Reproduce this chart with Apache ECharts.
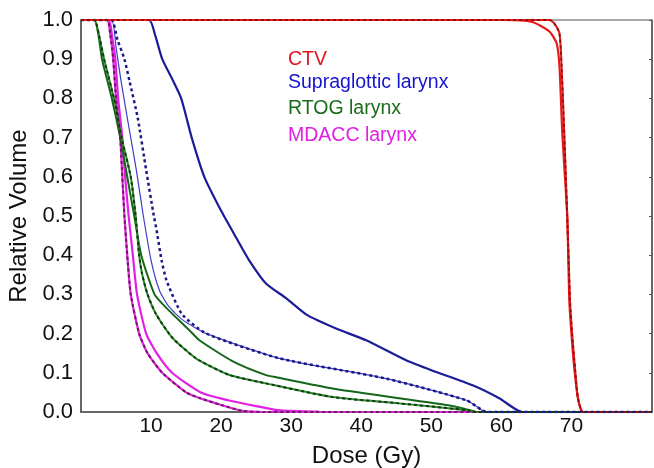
<!DOCTYPE html>
<html>
<head>
<meta charset="utf-8">
<script src="https://cdn.jsdelivr.net/npm/echarts@6/dist/echarts.min.js"></script>
<style>
  html, body { margin: 0; padding: 0; background: #fff; }
  #chart { width: 654px; height: 468px; }
</style>
</head>
<body>
<div id="chart"></div>
<script>
// DVH curves: [dose (Gy), relative volume]
var xTicks = [10, 20, 30, 40, 50, 60, 70];
var legendNames = ['CTV', 'Supraglottic larynx', 'RTOG larynx', 'MDACC larynx'];

var ctvA = [[0, 1], [59.9, 1], [64.4, 0.995], [66.9, 0.97], [67.9, 0.94], [68.3, 0.88], [68.7, 0.71],
  [69.4, 0.5], [69.7, 0.284], [70, 0.2], [70.4, 0.114], [70.9, 0.038], [71.4, 0.004], [71.7, 0], [81.5, 0]];
var ctvB = [[0, 1], [66.9, 1], [67.6, 0.99], [68.3, 0.965], [68.6, 0.88], [69, 0.7], [69.4, 0.5],
  [69.8, 0.284], [70.1, 0.2], [70.5, 0.114], [70.9, 0.038], [71.4, 0.004], [71.7, 0], [81.5, 0]];

var supraA = [[0, 1], [9.7, 1], [10.6, 0.96], [11.6, 0.9], [13, 0.85], [14.3, 0.8], [15.8, 0.7], [17.6, 0.6],
  [20.1, 0.51], [22.3, 0.44], [24, 0.387], [26.4, 0.328], [29.3, 0.29], [32.3, 0.247], [36.4, 0.213],
  [40.7, 0.183], [46.4, 0.132], [50.1, 0.106], [55.9, 0.068], [59.7, 0.035], [63, 0], [81.5, 0]];
var supraB = [[0, 1], [4.3, 1], [5.2, 0.95], [6.2, 0.9], [6.9, 0.846], [8.1, 0.75], [9.3, 0.617], [10.4, 0.5],
  [10.8, 0.463], [11.5, 0.387], [12.2, 0.336], [14.4, 0.25], [17.9, 0.2], [28.3, 0.137], [43.6, 0.085],
  [55, 0.03], [57.3, 0.004], [58, 0], [81.5, 0]];
var supraBThin = [[0, 1], [4.3, 1], [5, 0.93], [5.7, 0.846], [6.9, 0.72], [7.9, 0.617], [8.9, 0.5], [10, 0.387],
  [11.2, 0.31], [12.5, 0.27], [14.5, 0.235], [17.9, 0.2], [28.3, 0.137], [43.6, 0.085], [55, 0.03],
  [57.3, 0.004], [58, 0], [81.5, 0]];

var rtogA = [[0, 1], [1.9, 1], [2.5, 0.96], [3, 0.9], [4.4, 0.8], [5.6, 0.7], [6.6, 0.6], [7.6, 0.5], [8.6, 0.4],
  [10.5, 0.3], [12.1, 0.267], [15.5, 0.208], [16.9, 0.183], [21.6, 0.13], [26.4, 0.094], [28, 0.088],
  [35.9, 0.06], [45.4, 0.035], [52.4, 0.017], [55.7, 0.004], [56.5, 0], [81.5, 0]];
var rtogB = [[0, 1], [1.9, 1], [2.7, 0.95], [3.3, 0.9], [4.7, 0.8], [5.8, 0.7], [7.1, 0.6], [7.8, 0.5], [8.3, 0.4],
  [8.7, 0.354], [9.5, 0.3], [10.7, 0.25], [13, 0.19], [16.4, 0.137], [21.1, 0.095], [26.4, 0.073],
  [35.9, 0.038], [45.4, 0.022], [55.4, 0.004], [56, 0], [81.5, 0]];

var mdaccA = [[0, 1], [3.9, 1], [4.5, 0.95], [4.9, 0.9], [5.3, 0.8], [5.9, 0.7], [6.3, 0.6], [6.8, 0.5],
  [7.4, 0.4], [8, 0.3], [9.3, 0.2], [10.8, 0.15], [13, 0.1], [17.1, 0.05], [21, 0.03], [25, 0.015],
  [28.4, 0.004], [33.8, 0.001], [34, 0], [81.5, 0]];
var mdaccB = [[0, 1], [3.7, 1], [4.2, 0.96], [4.6, 0.9], [5, 0.8], [5.6, 0.7], [5.9, 0.6], [6.2, 0.5],
  [6.6, 0.4], [7.1, 0.3], [8.3, 0.2], [9.5, 0.15], [11.6, 0.1], [15, 0.05], [17, 0.035], [20, 0.018],
  [23, 0.003], [26, 0], [81.5, 0]];

function curve(name, data, color, width, dashed) {
  return {
    name: name,
    type: 'line',
    data: data,
    symbol: 'none',
    smooth: 0.2,
    lineStyle: { color: color, width: width, type: dashed ? [3, 3] : 'solid', join: 'round' },
    z: dashed ? 4 : 3
  };
}

var chart = echarts.init(document.getElementById('chart'));
var font = 'Liberation Sans, Arial, sans-serif';
var legendFont = '19.5px ' + font;
var option = {
  animation: false,
  grid: {
    left: 81, right: 2, top: 20, bottom: 56,
    outerBoundsMode: 'none',
    show: true, borderColor: '#555', borderWidth: 1
  },
  xAxis: {
    type: 'value',
    min: 0,
    max: 81.5,
    interval: 10,
    name: 'Dose (Gy)',
    nameLocation: 'middle',
    nameGap: 32,
    nameTextStyle: { fontFamily: font, fontSize: 24, color: '#111' },
    axisLine: { show: true, lineStyle: { color: '#666', width: 2 } },
    axisTick: { show: false },
    splitLine: { show: false },
    axisLabel: {
      fontFamily: font, fontSize: 21, color: '#111', margin: 4,
      showMaxLabel: false,
      formatter: function (v) { return xTicks.indexOf(v) >= 0 ? String(v) : ''; }
    }
  },
  yAxis: [{
    type: 'value',
    min: 0,
    max: 1,
    interval: 0.1,
    name: 'Relative Volume',
    nameLocation: 'middle',
    nameGap: 45,
    nameTextStyle: { fontFamily: font, fontSize: 24, color: '#111' },
    axisLine: { show: true, lineStyle: { color: '#666', width: 2 } },
    axisTick: { show: false },
    splitLine: { show: false },
    axisLabel: {
      fontFamily: font, fontSize: 22, color: '#111', margin: 8,
      formatter: function (v) { return v.toFixed(1); }
    }
  }, {
    type: 'value',
    min: 0,
    max: 1,
    interval: 0.1,
    position: 'right',
    axisLine: { show: true, lineStyle: { color: '#555', width: 1.5 } },
    axisTick: { show: true, inside: true, length: 3, lineStyle: { color: '#555' } },
    axisLabel: { show: false },
    splitLine: { show: false }
  }],
  graphic: [
    { type: 'text', left: 288, top: 50, style: { text: legendNames[0], fill: '#e0141e', font: legendFont } },
    { type: 'text', left: 288, top: 73, style: { text: legendNames[1], fill: '#1515cf', font: legendFont } },
    { type: 'text', left: 288, top: 99, style: { text: legendNames[2], fill: '#1a6b1a', font: legendFont } },
    { type: 'text', left: 288, top: 126, style: { text: legendNames[3], fill: '#e01ee6', font: legendFont } }
  ],
  series: [
    curve('MDACC A', mdaccA, '#e21fe2', 2.2, false),
    curve('MDACC B', mdaccB, '#e21fe2', 2.2, false),
    curve('MDACC B dash', mdaccB, '#6a1a5a', 2, true),
    curve('RTOG A', rtogA, '#16661a', 2, false),
    curve('RTOG B', rtogB, '#2a8a2a', 2, false),
    curve('RTOG B dash', rtogB, '#103a10', 2, true),
    curve('Supra A', supraA, '#1c1c98', 2.2, false),
    curve('Supra B thin', supraBThin, '#3d3dcc', 1.2, false),
    curve('Supra B dash', supraB, '#1a1a86', 2.5, true),
    curve('CTV A', ctvA, '#e81818', 2.2, false),
    curve('CTV B', ctvB, '#e81818', 2, false),
    curve('CTV B dash', ctvB, '#8a1010', 1.8, true)
  ]
};
chart.setOption(option);
</script>
</body>
</html>
